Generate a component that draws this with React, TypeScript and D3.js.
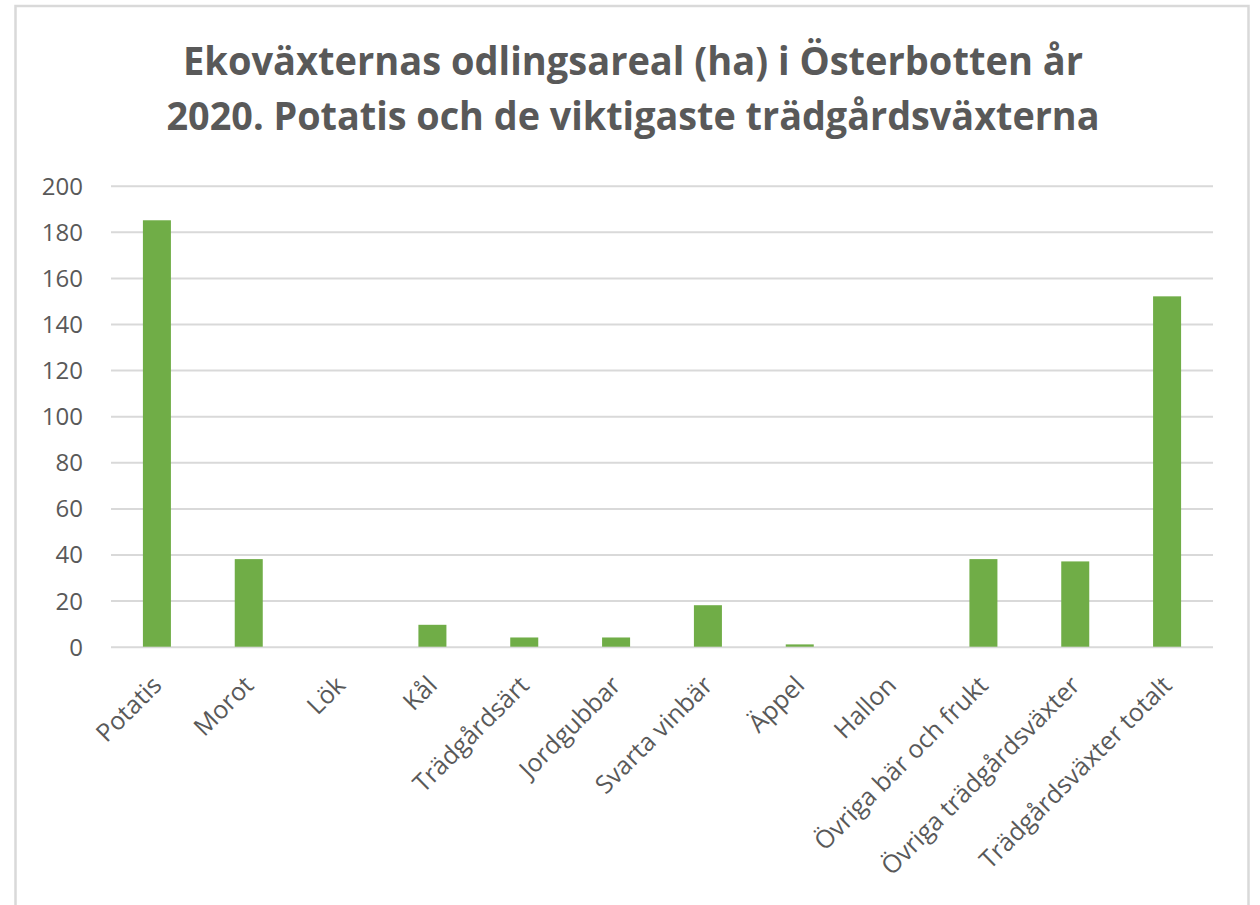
import * as d3 from "d3";
import { useRef, useEffect } from "react";

const categories = [
  "Potatis",
  "Morot",
  "Lök",
  "Kål",
  "Trädgårdsärt",
  "Jordgubbar",
  "Svarta vinbär",
  "Äppel",
  "Hallon",
  "Övriga bär och frukt",
  "Övriga trädgårdsväxter",
  "Trädgårdsväxter totalt",
];
const areas = [185, 38, 0, 9.5, 4, 4, 18, 1, 0, 38, 37, 152];
const yTicks = [0, 20, 40, 60, 80, 100, 120, 140, 160, 180, 200];
const titleLines = [
  "Ekoväxternas odlingsareal (ha) i Österbotten år",
  "2020. Potatis och de viktigaste trädgårdsväxterna",
];

const FONT = "'Open Sans', 'DejaVu Sans', sans-serif";
const TEXT_COLOR = "#595959";
const GRID_COLOR = "#d9d9d9";
const BAR_COLOR = "#70ad47";

type ChartProps = {
  width?: number;
  height?: number;
  marginTop?: number;
  marginRight?: number;
  marginBottom?: number;
  marginLeft?: number;
};

function Chart({
  width = 1260,
  height = 905,
  marginTop = 185.7,
  marginRight = 47,
  marginBottom = 258.3,
  marginLeft = 111,
}: ChartProps) {
  const ref = useRef<SVGSVGElement | null>(null);

  useEffect(() => {
    const svg = d3.select(ref.current);
    svg.selectAll("*").remove();

    // chart frame, bottom edge runs off the page
    svg
      .append("rect")
      .attr("x", 15.5)
      .attr("y", 6)
      .attr("width", 1233)
      .attr("height", 1000)
      .attr("fill", "#fff")
      .attr("stroke", GRID_COLOR)
      .attr("stroke-width", 2.5);

    // title
    const widths = [900, 933];
    svg
      .append("g")
      .selectAll("text")
      .data(titleLines)
      .join("text")
      .attr("x", 633)
      .attr("y", (_, i) => 75 + i * 55)
      .attr("text-anchor", "middle")
      .attr("font-family", FONT)
      .attr("font-weight", 700)
      .attr("font-size", 40)
      .attr("fill", TEXT_COLOR)
      .attr("textLength", (_, i) => widths[i])
      .attr("lengthAdjust", "spacingAndGlyphs")
      .text((d) => d);

    const x = d3
      .scaleBand<string>()
      .domain(categories)
      .range([marginLeft, width - marginRight])
      .paddingInner(0.695)
      .paddingOuter(0.3475);

    const y = d3
      .scaleLinear()
      .domain([0, 200])
      .range([height - marginBottom, marginTop]);

    // y axis: gridlines + labels
    svg
      .append("g")
      .attr("transform", `translate(${marginLeft},0)`)
      .call(
        d3
          .axisLeft(y)
          .tickValues(yTicks)
          .tickSize(-(width - marginLeft - marginRight))
          .tickPadding(28),
      )
      .call((g) => g.select(".domain").remove())
      .call((g) =>
        g
          .selectAll(".tick line")
          .attr("stroke", GRID_COLOR)
          .attr("stroke-width", 2),
      )
      .call((g) =>
        g
          .selectAll(".tick text")
          .attr("fill", TEXT_COLOR)
          .attr("font-family", FONT)
          .attr("font-size", 24)
          .attr("dy", "0.35em"),
      );

    // bars
    svg
      .append("g")
      .attr("fill", BAR_COLOR)
      .selectAll("rect")
      .data(areas)
      .join("rect")
      .attr("x", (_, i) => x(categories[i]) ?? 0)
      .attr("y", (d) => y(d))
      .attr("width", x.bandwidth())
      .attr("height", (d) => y(0) - y(d));

    // x labels rotated -45deg
    svg
      .append("g")
      .selectAll("text")
      .data(categories)
      .join("text")
      .attr(
        "transform",
        (d) =>
          `translate(${(x(d) ?? 0) + x.bandwidth() / 2},${y(0) + 34}) rotate(-45)`,
      )
      .attr("text-anchor", "end")
      .attr("dy", "0.35em")
      .attr("font-family", FONT)
      .attr("font-size", 25)
      .attr("fill", TEXT_COLOR)
      .text((d) => d);

    return () => {
      svg.selectAll("*").remove();
    };
  }, [height, width, marginBottom, marginLeft, marginRight, marginTop]);

  return (
    <svg
      width={width}
      height={height}
      ref={ref}
      style={{ position: "absolute", left: 0, top: 0, background: "#fff" }}
    />
  );
}

export default function App() {
  return <Chart />;
}
